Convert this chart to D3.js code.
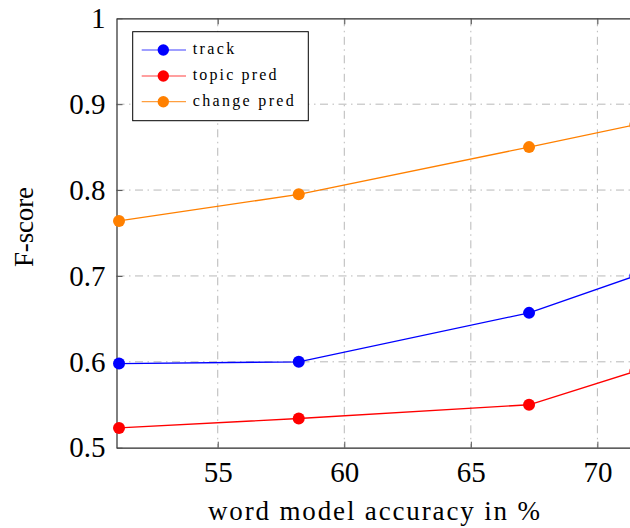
<!DOCTYPE html>
<html>
<head>
<meta charset="utf-8">
<script src="https://cdn.jsdelivr.net/npm/d3@7"></script>
<style>
  html, body { margin: 0; padding: 0; background: #fff; }
  svg { display: block; }
  svg text { font-family: "Liberation Serif", serif; fill: #000; }
</style>
</head>
<body>
<svg id="chart" width="630" height="528"></svg>
<script>
// Word model accuracy (%) on the x axis, F-score per method on the y axis
const accuracy = [51.1, 58.2, 67.3, 71.5];
const trackScores = [0.598, 0.600, 0.657, 0.700];
const topicPredScores = [0.523, 0.534, 0.550, 0.589];
const changePredScores = [0.764, 0.795, 0.850, 0.876];

const seriesNames = ["track", "topic pred", "change pred"];
const seriesColors = ["#0000ff", "#ff0000", "#ff8000"];
const seriesValues = [trackScores, topicPredScores, changePredScores];

const xTicks = [55, 60, 65, 70];
const yTicks = [0.5, 0.6, 0.7, 0.8, 0.9, 1.0];
const xLabel = "word model accuracy in %";
const yLabel = "F-score";

const svg = d3.select("#chart");
const SERIF = "'Liberation Serif', serif";

const plotLeft = 116.5, plotTop = 18.3, plotBottom = 447.7;
const x = d3.scaleLinear().domain([51, 72]).range([plotLeft, plotLeft + 21 * 25.31]);
const y = d3.scaleLinear().domain([0.5, 1]).range([plotBottom, plotTop]);

// Dash-dotted grid
const grid = svg.append("g")
  .attr("stroke", "#b8b8b8")
  .attr("stroke-width", 1)
  .attr("stroke-dasharray", "8 4.5 1.5 4.5");
grid.selectAll("line.vx").data(xTicks).join("line")
  .attr("x1", d => x(d)).attr("x2", d => x(d))
  .attr("y1", plotTop).attr("y2", plotBottom);
grid.selectAll("line.hy").data(yTicks.filter(v => v > 0.5 && v < 1)).join("line")
  .attr("x1", plotLeft).attr("x2", x(72))
  .attr("y1", d => y(d)).attr("y2", d => y(d));

// Axes with inward ticks
function styleAxis(g) {
  g.attr("font-family", SERIF);
  g.select(".domain").attr("stroke", "#2a2a2a").attr("stroke-width", 1.2);
  g.selectAll(".tick line").attr("stroke", "#555").attr("stroke-width", 1);
  g.selectAll(".tick text")
    .style("font-family", SERIF)
    .attr("font-size", 29)
    .attr("fill", "#000");
}

svg.append("g")
  .attr("transform", `translate(0,${plotBottom})`)
  .call(d3.axisBottom(x).tickValues(xTicks).tickSizeInner(-6).tickSizeOuter(0)
    .tickPadding(14).tickFormat(d3.format("d")))
  .call(styleAxis);

svg.append("g")
  .attr("transform", `translate(0,${plotTop})`)
  .call(d3.axisTop(x).tickValues(xTicks).tickSizeInner(-6).tickSizeOuter(0)
    .tickFormat(""))
  .call(styleAxis);

svg.append("g")
  .attr("transform", `translate(${plotLeft},0)`)
  .call(d3.axisLeft(y).tickValues(yTicks).tickSizeInner(-6).tickSizeOuter(0)
    .tickPadding(11).tickFormat(d => d === 1 ? "1" : d3.format(".1f")(d)))
  .call(styleAxis);

// Series lines and markers
const line = d3.line().x((d, i) => x(accuracy[i])).y(d => y(d));
seriesValues.forEach((vals, k) => {
  const g = svg.append("g");
  g.append("path")
    .datum(vals)
    .attr("d", line)
    .attr("fill", "none")
    .attr("stroke", seriesColors[k])
    .attr("stroke-width", 1.3);
  g.selectAll("circle").data(vals).join("circle")
    .attr("cx", (d, i) => x(accuracy[i]))
    .attr("cy", d => y(d))
    .attr("r", 6)
    .attr("fill", seriesColors[k]);
});

// Axis titles
svg.append("text")
  .attr("x", 374).attr("y", 520)
  .attr("text-anchor", "middle")
  .style("font-family", SERIF)
  .attr("font-size", 27)
  .attr("textLength", 332)
  .attr("lengthAdjust", "spacing")
  .text(xLabel);

svg.append("text")
  .attr("transform", "translate(33,227) rotate(-90)")
  .attr("text-anchor", "middle")
  .style("font-family", SERIF)
  .attr("font-size", 27)
  .attr("textLength", 80)
  .attr("lengthAdjust", "spacing")
  .text(yLabel);

// Legend
const legend = svg.append("g");
legend.append("rect")
  .attr("x", 132.7).attr("y", 31.7)
  .attr("width", 175.6).attr("height", 89)
  .attr("fill", "#fff")
  .attr("stroke", "#000")
  .attr("stroke-width", 1);
const legendRows = [50, 76, 101.7];
seriesNames.forEach((name, k) => {
  const ly = legendRows[k];
  legend.append("line")
    .attr("x1", 141.7).attr("x2", 186)
    .attr("y1", ly).attr("y2", ly)
    .attr("stroke", seriesColors[k])
    .attr("stroke-width", 1.2)
    .attr("opacity", 0.75);
  legend.append("circle")
    .attr("cx", 163.3).attr("cy", ly).attr("r", 5.7)
    .attr("fill", seriesColors[k]);
  const t = legend.append("text")
    .attr("x", 192.7).attr("y", ly + 4)
    .style("font-family", SERIF)
    .attr("font-size", 16)
    .text(name);
  // widen spacing slightly for a rounder text face
  const w = t.node().getComputedTextLength();
  t.attr("textLength", w * 1.3).attr("lengthAdjust", "spacing");
});
</script>
</body>
</html>
